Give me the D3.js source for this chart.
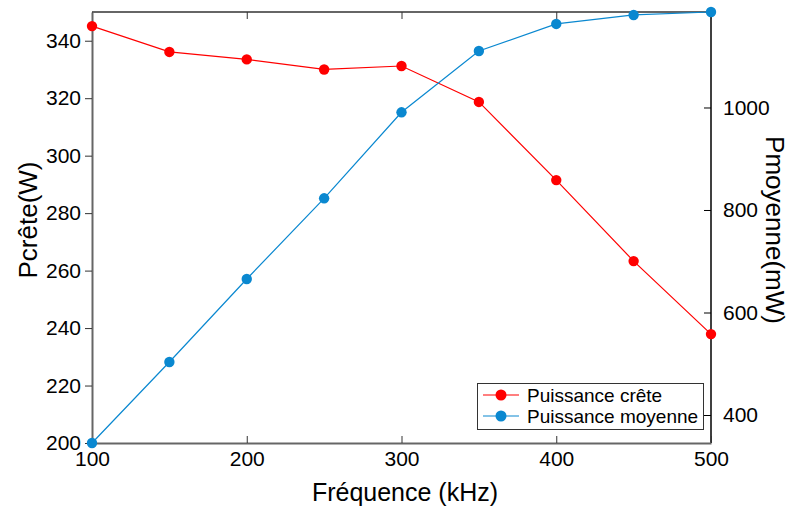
<!DOCTYPE html>
<html><head><meta charset="utf-8">
<script src="https://cdn.jsdelivr.net/npm/d3@7"></script>
<style>body{margin:0;background:#fff}svg{display:block;font-family:"Liberation Sans",Arial,sans-serif}</style>
</head><body><svg id="c" width="790" height="508"></svg>
<script>
const freqs = [100,150,200,250,300,350,400,450,500];
const crete = [345.1,336.1,333.5,330.0,331.2,318.7,291.5,263.3,237.9];
const moyenne = [345.4,503.4,665.4,822.8,990.6,1110.2,1163,1180.5,1186.3];
const xTicks = [100,200,300,400,500];
const yLeftTicks = [200,220,240,260,280,300,320,340];
const yRightTicks = [400,600,800,1000];
const seriesNames = ["Puissance crête","Puissance moyenne"];
const colors = ["#ff0000","#0a88d0"];

const svg = d3.select("#c");
const L=92,R=711,T=12,B=443;
const x = d3.scaleLinear().domain([100,500]).range([L,R]);
const yl = d3.scaleLinear().domain([200,350]).range([B,T]);
const yr = d3.scaleLinear().domain(d3.extent(moyenne)).range([B,T]);
const fmt = d3.format("d");

// frame lines
svg.append("line").attr("x1",L).attr("x2",R).attr("y1",T).attr("y2",T).attr("stroke","#333").attr("stroke-width",1.5);
svg.append("line").attr("x1",R).attr("x2",R).attr("y1",T).attr("y2",B).attr("stroke","#000").attr("stroke-width",1.5);

// bottom axis
const gx = svg.append("g").attr("transform",`translate(0,${B})`)
  .call(d3.axisBottom(x).tickValues(xTicks).tickFormat(fmt).tickSizeInner(-7).tickSizeOuter(0).tickPadding(10));
gx.select(".domain").attr("stroke","#666").attr("stroke-width",2);
gx.selectAll(".tick line").attr("stroke","#333");
gx.selectAll("text").attr("font-size",21).attr("fill","#000").attr("dy","0.6em");

// top ticks
const gt = svg.append("g").attr("transform",`translate(0,${T})`)
  .call(d3.axisTop(x).tickValues(xTicks).tickSizeInner(-7).tickSizeOuter(0).tickFormat(""));
gt.select(".domain").remove();
gt.selectAll(".tick line").attr("stroke","#333");

// left axis
const gl = svg.append("g").attr("transform",`translate(${L},0)`)
  .call(d3.axisLeft(yl).tickValues(yLeftTicks).tickFormat(fmt).tickSize(7).tickSizeOuter(0).tickPadding(4));
gl.select(".domain").attr("stroke","#666").attr("stroke-width",2);
gl.selectAll(".tick line").attr("stroke","#333");
gl.selectAll("text").attr("font-size",21).attr("fill","#000");

// right axis
const gr = svg.append("g").attr("transform",`translate(${R},0)`)
  .call(d3.axisRight(yr).tickValues(yRightTicks).tickFormat(fmt).tickSizeInner(-7).tickSizeOuter(0).tickPadding(12));
gr.select(".domain").remove();
gr.selectAll(".tick line").attr("stroke","#000");
gr.selectAll("text").attr("font-size",21).attr("fill","#000");

// titles
svg.append("text").attr("x",405).attr("y",501).attr("text-anchor","middle").attr("font-size",25).attr("fill","#000").text("Fréquence (kHz)");
svg.append("text").attr("transform","translate(37,220) rotate(-90)").attr("text-anchor","middle").attr("font-size",26).attr("fill","#000").text("Pcrête(W)");
svg.append("text").attr("transform","translate(766,230) rotate(90)").attr("text-anchor","middle").attr("font-size",26).attr("fill","#000").text("Pmoyenne(mW)");

// series
const sets = [{v:crete,y:yl,c:colors[0]},{v:moyenne,y:yr,c:colors[1]}];
sets.forEach(s=>{
  const line = d3.line().x((d,i)=>x(freqs[i])).y(d=>s.y(d));
  svg.append("path").datum(s.v).attr("d",line).attr("fill","none").attr("stroke",s.c).attr("stroke-width",1.2);
  svg.selectAll(null).data(s.v).enter().append("circle")
    .attr("cx",(d,i)=>x(freqs[i])).attr("cy",d=>s.y(d)).attr("r",5.2).attr("fill",s.c);
});

// legend
const lg = svg.append("g");
lg.append("rect").attr("x",477.5).attr("y",383.5).attr("width",226).attr("height",46).attr("fill","#fff").attr("stroke","#333").attr("stroke-width",1);
seriesNames.forEach((n,i)=>{
  const yy = 395 + i*21;
  lg.append("line").attr("x1",483).attr("x2",519).attr("y1",yy).attr("y2",yy).attr("stroke",colors[i]).attr("stroke-width",1.2);
  lg.append("circle").attr("cx",501).attr("cy",yy).attr("r",5.5).attr("fill",colors[i]);
  lg.append("text").attr("x",527).attr("y",yy).attr("dy","0.35em").attr("font-size",19).attr("fill","#000").text(n);
});
</script></body></html>
